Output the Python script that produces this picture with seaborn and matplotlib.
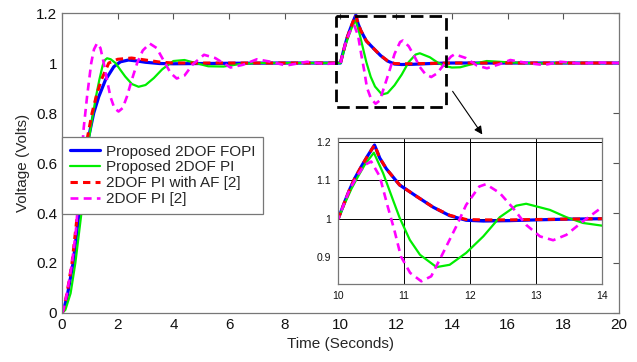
import matplotlib
matplotlib.use("Agg")
import matplotlib.pyplot as plt
import matplotlib.ticker as mticker
import seaborn as sns
import numpy as np

# ---------------- data ----------------
t_fopi = [0, 0.06, 0.2, 0.4, 0.6, 0.8, 0.96, 1.14, 1.32, 1.56, 1.86, 2.1, 2.39, 2.7, 3.0, 3.5, 4.0, 5.0,
          6.0, 8.0, 10.0, 10.1, 10.17, 10.25, 10.35, 10.45, 10.55, 10.63, 10.73, 10.93, 11.19, 11.44,
          11.69, 11.94, 12.2, 12.6, 13.0, 13.5, 14.0, 16.0, 18.0, 20.0]
v_fopi = [0, 0.012, 0.075, 0.2, 0.39, 0.565, 0.705, 0.8, 0.865, 0.932, 0.985, 1.005, 1.012, 1.008, 1.003,
          0.998, 0.997, 0.998, 0.999, 1.0, 1.0, 1.045, 1.075, 1.105, 1.136, 1.165, 1.192, 1.158, 1.13,
          1.088, 1.058, 1.03, 1.008, 0.996, 0.994, 0.995, 0.997, 0.999, 1.0, 1.0, 1.0, 1.0]

t_pi = [0, 0.12, 0.31, 0.48, 0.69, 0.85, 0.98, 1.12, 1.22, 1.34, 1.46, 1.54, 1.62, 1.75, 1.92, 2.1, 2.27,
        2.51, 2.75, 3.0, 3.3, 3.6, 4.0, 4.4, 4.8, 5.25, 5.8, 6.4, 7.0, 8.0, 10.0, 10.1, 10.2, 10.3, 10.4,
        10.54, 10.68, 10.83, 10.93, 11.085, 11.24, 11.49, 11.69, 11.94, 12.2, 12.45, 12.7, 12.85, 13.21,
        13.46, 13.71, 14.0, 14.3, 14.6, 15.25, 16.0, 17.0, 18.0, 20.0]
v_pi = [0, 0.012, 0.079, 0.2, 0.392, 0.56, 0.705, 0.8, 0.865, 0.932, 0.99, 1.012, 1.019, 1.015, 1.0,
        0.972, 0.946, 0.916, 0.905, 0.912, 0.94, 0.975, 1.008, 1.012, 1.0, 0.987, 0.986, 0.996, 1.0, 1.0,
        1.0, 1.04, 1.078, 1.11, 1.14, 1.172, 1.119, 1.049, 1.003, 0.945, 0.906, 0.874, 0.88, 0.911,
        0.954, 1.004, 1.034, 1.039, 1.023, 1.004, 0.989, 0.982, 0.983, 0.992, 1.008, 1.003, 0.998, 1.0,
        1.0]

t_af = [0, 0.05, 0.18, 0.36, 0.55, 0.75, 0.92, 1.08, 1.25, 1.41, 1.68, 2.0, 2.5, 3.0, 3.5, 4.0, 5.0, 6.0,
        8.0, 10.0, 10.1, 10.17, 10.25, 10.35, 10.45, 10.55, 10.63, 10.73, 10.93, 11.19, 11.44, 11.69,
        11.94, 12.2, 12.6, 13.0, 13.5, 14.0, 16.0, 18.0, 20.0]
v_af = [0, 0.012, 0.079, 0.2, 0.392, 0.58, 0.705, 0.8, 0.875, 0.932, 1.0, 1.015, 1.02, 1.012, 1.004, 1.0,
        1.0, 1.0, 1.0, 1.0, 1.045, 1.075, 1.105, 1.136, 1.165, 1.192, 1.158, 1.13, 1.088, 1.058, 1.03,
        1.009, 0.998, 0.997, 0.997, 0.998, 0.999, 1.0, 1.0, 1.0, 1.0]

t_pi2 = [0, 0.05, 0.18, 0.36, 0.5, 0.62, 0.78, 0.9, 1.05, 1.15, 1.26, 1.38, 1.5, 1.62, 1.74, 1.88, 2.03,
         2.18, 2.33, 2.5, 2.7, 2.9, 3.15, 3.4, 3.65, 3.9, 4.12, 4.4, 4.7, 5.1, 5.5, 6.05, 6.5, 7.0, 7.5,
         8.05, 8.8, 9.45, 10.0, 10.17, 10.3, 10.4, 10.5, 10.63, 10.75, 10.85, 10.95, 11.09, 11.26, 11.41,
         11.59, 11.79, 11.94, 12.14, 12.24, 12.45, 12.65, 12.85, 13.06, 13.26, 13.46, 13.71, 13.97, 14.1,
         14.5, 14.9, 15.26, 15.7, 16.1, 16.7, 17.3, 17.9, 18.6, 19.3, 20.0]
v_pi2 = [0, 0.012, 0.079, 0.2, 0.33, 0.5, 0.74, 0.865, 1.0, 1.055, 1.079, 1.06, 1.0, 0.93, 0.865, 0.82,
         0.806, 0.82, 0.865, 0.93, 1.0, 1.05, 1.078, 1.06, 1.01, 0.96, 0.938, 0.95, 0.995, 1.033, 1.02,
         0.982, 0.993, 1.015, 1.005, 0.99, 1.005, 0.996, 1.0, 1.075, 1.115, 1.14, 1.149, 1.11, 1.032, 0.971,
         0.902, 0.859, 0.837, 0.85, 0.911, 0.98, 1.036, 1.084, 1.09, 1.067, 1.028, 0.984, 0.954, 0.944,
         0.958, 0.993, 1.026, 1.035, 1.02, 0.99, 0.979, 0.995, 1.012, 1.0, 0.992, 1.005, 0.998, 1.002,
         1.0]

labels = ["Proposed 2DOF FOPI", "Proposed 2DOF PI", "2DOF PI with AF [2]", "2DOF PI [2]"]
x_ticks = [0, 2, 4, 6, 8, 10, 12, 14, 16, 18, 20]
y_ticks = [0, 0.2, 0.4, 0.6, 0.8, 1.0, 1.2]
inset_x_ticks = [10, 11, 12, 13, 14]
inset_y_ticks = [0.9, 1.0, 1.1, 1.2]

# ---------------- style ----------------
sns.set_style("white")
plt.rcParams["font.family"] = ["Liberation Sans", "DejaVu Sans"]

series = [
    (t_fopi, v_fopi, dict(color="#0000ff", lw=2.3, linestyle="-")),
    (t_pi, v_pi, dict(color="#00ee00", lw=1.6, linestyle="-")),
    (t_af, v_af, dict(color="#ff0000", lw=2.2, linestyle=(0, (2.4, 1.7)))),
    (t_pi2, v_pi2, dict(color="#ff00ff", lw=1.9, linestyle=(0, (3.0, 2.0)))),
]

fig = plt.figure(figsize=(6.37, 3.62), dpi=100)
ax = fig.add_axes([0.0973, 0.1354, 0.8744, 0.8286])

for (t, v, kw), lab in zip(series, labels):
    sns.lineplot(x=t, y=v, ax=ax, label=lab, estimator=None, sort=False, **kw)

ax.set_xlim(0, 20)
ax.set_ylim(0, 1.2)
ax.set_xticks(x_ticks)
ax.set_yticks(y_ticks)
ax.yaxis.set_major_formatter(mticker.FormatStrFormatter("%g"))
ax.tick_params(direction="in", length=4, width=0.8, labelsize=11, top=True, right=True,
               colors="#555555", labelcolor="#111111")
ax.set_xlabel("Time (Seconds)", fontsize=11, labelpad=4)
ax.set_ylabel("Voltage (Volts)", fontsize=11, labelpad=4)
for s in ax.spines.values():
    s.set_color("#777777")
    s.set_linewidth(0.9)

leg = ax.legend(loc="upper left", bbox_to_anchor=(0.0, 0.587), borderaxespad=0, fontsize=11,
                fancybox=False, framealpha=1, edgecolor="#777777", handlelength=2.0,
                handletextpad=0.4, labelspacing=0.12, borderpad=0.5)
leg.get_frame().set_linewidth(0.9)

# dashed zoom box and arrow
ax.plot([9.85, 13.8, 13.8, 9.85, 9.85], [1.188, 1.188, 0.824, 0.824, 1.188], color="black",
        lw=2.0, linestyle=(0, (4.5, 2.2)))
ax.annotate("", xy=(15.15, 0.705), xytext=(13.97, 0.896),
            arrowprops=dict(arrowstyle="-|>", color="black", lw=0.8, mutation_scale=12))

# ---------------- inset ----------------
ins = fig.add_axes([0.531, 0.2155, 0.414, 0.403])
ins.set_facecolor("white")
for (t, v, kw), lab in zip(series, labels):
    sns.lineplot(x=t, y=v, ax=ins, legend=False, estimator=None, sort=False, **kw)
ins.set_xlim(10, 14)
ins.set_ylim(0.83, 1.21)
ins.set_xticks(inset_x_ticks)
ins.set_yticks(inset_y_ticks)
ins.yaxis.set_major_formatter(mticker.FormatStrFormatter("%g"))
ins.grid(True, color="black", lw=0.7)
ins.set_axisbelow(True)
ins.tick_params(direction="in", length=3, labelsize=7.5, colors="#555555", labelcolor="#111111",
                pad=5)
ins.set_xlabel("")
ins.set_ylabel("")
for s in ins.spines.values():
    s.set_color("#777777")
    s.set_linewidth(0.9)

fig.savefig("out.png", dpi=100)
